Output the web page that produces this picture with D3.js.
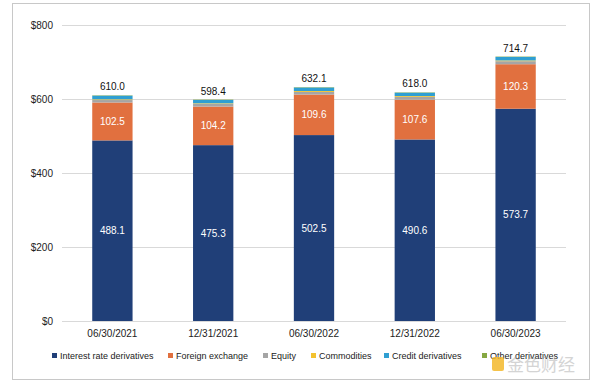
<!DOCTYPE html>
<html>
<head>
<meta charset="utf-8">
<script src="https://cdn.jsdelivr.net/npm/d3@7"></script>
<style>
  body { margin: 0; background: #fff; }
  svg { font-family: "Liberation Sans", Arial, sans-serif; }
</style>
</head>
<body>
<div id="chart"></div>
<script>
// chart size
const width = 600;
const height = 384;
const margin = {left: 62, right: 34, top: 25, bottom: 63};

// data
const dates = ["06/30/2021", "12/31/2021", "06/30/2022", "12/31/2022", "06/30/2023"];
const interestRate = [488.1, 475.3, 502.5, 490.6, 573.7];
const foreignExchange = [102.5, 104.2, 109.6, 107.6, 120.3];
const equity = [6.6, 7.3, 7.0, 7.5, 8.2];
const commodities = [2.0, 1.6, 2.5, 2.3, 2.0];
const credit = [9.8, 9.0, 9.5, 9.0, 9.5];
const other = [1.0, 1.0, 1.0, 1.0, 1.0];
const totals = [610.0, 598.4, 632.1, 618.0, 714.7];
const yTicks = [0, 200, 400, 600, 800];

const seriesNames = ["Interest rate derivatives", "Foreign exchange", "Equity",
  "Commodities", "Credit derivatives", "Other derivatives"];
const seriesValues = [interestRate, foreignExchange, equity, commodities, credit, other];
const colors = ["#203f78", "#e1703f", "#a5a5a5", "#f3c22f", "#2f9fd2", "#86a843"];

// rows for d3.stack
const rows = dates.map((d, i) => {
  const row = {date: d};
  seriesNames.forEach((s, j) => { row[s] = seriesValues[j][i]; });
  return row;
});

const svg = d3.select("#chart")
  .append("svg")
  .attr("width", width)
  .attr("height", height);

// outer frame
svg.append("rect")
  .attr("x", 12.5).attr("y", 3.5)
  .attr("width", 577).attr("height", 376)
  .attr("fill", "#fff")
  .attr("stroke", "#c8c8c8");

const xScale = d3.scaleBand()
  .domain(dates)
  .range([margin.left, width - margin.right])
  .paddingInner(0.6)
  .paddingOuter(0.3);

const yScale = d3.scaleLinear()
  .domain([0, 800])
  .range([height - margin.bottom, margin.top]);

// gridlines
svg.append("g")
  .selectAll("line")
  .data(yTicks)
  .enter()
  .append("line")
  .attr("x1", margin.left)
  .attr("x2", width - margin.right)
  .attr("y1", d => Math.round(yScale(d)) + 0.5)
  .attr("y2", d => Math.round(yScale(d)) + 0.5)
  .attr("stroke", "#d9d9d9");

// y axis labels
const yAxis = svg.append("g")
  .attr("transform", `translate(${margin.left - 6},0)`)
  .call(d3.axisLeft(yScale).tickValues(yTicks).tickSize(0).tickFormat(d => "$" + d));
yAxis.select(".domain").remove();
yAxis.selectAll("text").attr("font-size", "10px").attr("fill", "#222")
  .attr("font-family", "Liberation Sans, Arial, sans-serif");

// x axis labels
const xAxis = svg.append("g")
  .attr("transform", `translate(0,${height - margin.bottom + 6})`)
  .call(d3.axisBottom(xScale).tickSize(0));
xAxis.select(".domain").remove();
xAxis.selectAll("text").attr("font-size", "10px").attr("fill", "#222")
  .attr("font-family", "Liberation Sans, Arial, sans-serif");

// stacked bars
const stacked = d3.stack().keys(seriesNames)(rows);

const layers = svg.append("g")
  .selectAll("g")
  .data(stacked)
  .enter()
  .append("g")
  .attr("fill", (d, i) => colors[i]);

layers.selectAll("rect")
  .data(d => d)
  .enter()
  .append("rect")
  .attr("x", d => xScale(d.data.date))
  .attr("width", xScale.bandwidth())
  .attr("y", d => yScale(d[1]))
  .attr("height", d => yScale(d[0]) - yScale(d[1]));

// white labels inside the two big segments
stacked.slice(0, 2).forEach(layer => {
  svg.append("g")
    .selectAll("text")
    .data(layer)
    .enter()
    .append("text")
    .attr("x", d => xScale(d.data.date) + xScale.bandwidth() / 2)
    .attr("y", d => (yScale(d[0]) + yScale(d[1])) / 2)
    .attr("dy", "0.35em")
    .attr("text-anchor", "middle")
    .attr("font-size", "10px")
    .attr("fill", "#fff")
    .text(d => (d[1] - d[0]).toFixed(1));
});

// totals on top
svg.append("g")
  .selectAll("text")
  .data(dates)
  .enter()
  .append("text")
  .attr("x", d => xScale(d) + xScale.bandwidth() / 2)
  .attr("y", (d, i) => yScale(totals[i]) - 5)
  .attr("text-anchor", "middle")
  .attr("font-size", "10px")
  .attr("fill", "#111")
  .text((d, i) => totals[i].toFixed(1));

// legend
const legendX = [52, 168, 263, 311, 384, 482];
const legend = svg.append("g")
  .selectAll("g")
  .data(seriesNames)
  .enter()
  .append("g")
  .attr("transform", (d, i) => `translate(${legendX[i]},356)`);

legend.append("rect")
  .attr("x", 0).attr("y", -3)
  .attr("width", 5).attr("height", 5)
  .attr("fill", (d, i) => colors[i]);

legend.append("text")
  .attr("x", 8)
  .attr("dy", "0.35em")
  .attr("font-size", "9px")
  .attr("fill", "#222")
  .text(d => d);

// watermark
svg.append("rect")
  .attr("x", 492).attr("y", 357)
  .attr("width", 12).attr("height", 14)
  .attr("rx", 2)
  .attr("fill", "#f3b92c")
  .attr("opacity", 0.85);
svg.append("text")
  .attr("x", 507).attr("y", 371)
  .attr("font-size", "17px")
  .attr("font-family", "Noto Sans CJK SC, sans-serif")
  .attr("fill", "#aaa")
  .attr("opacity", 0.5)
  .text("金色财经");
</script>
</body>
</html>
